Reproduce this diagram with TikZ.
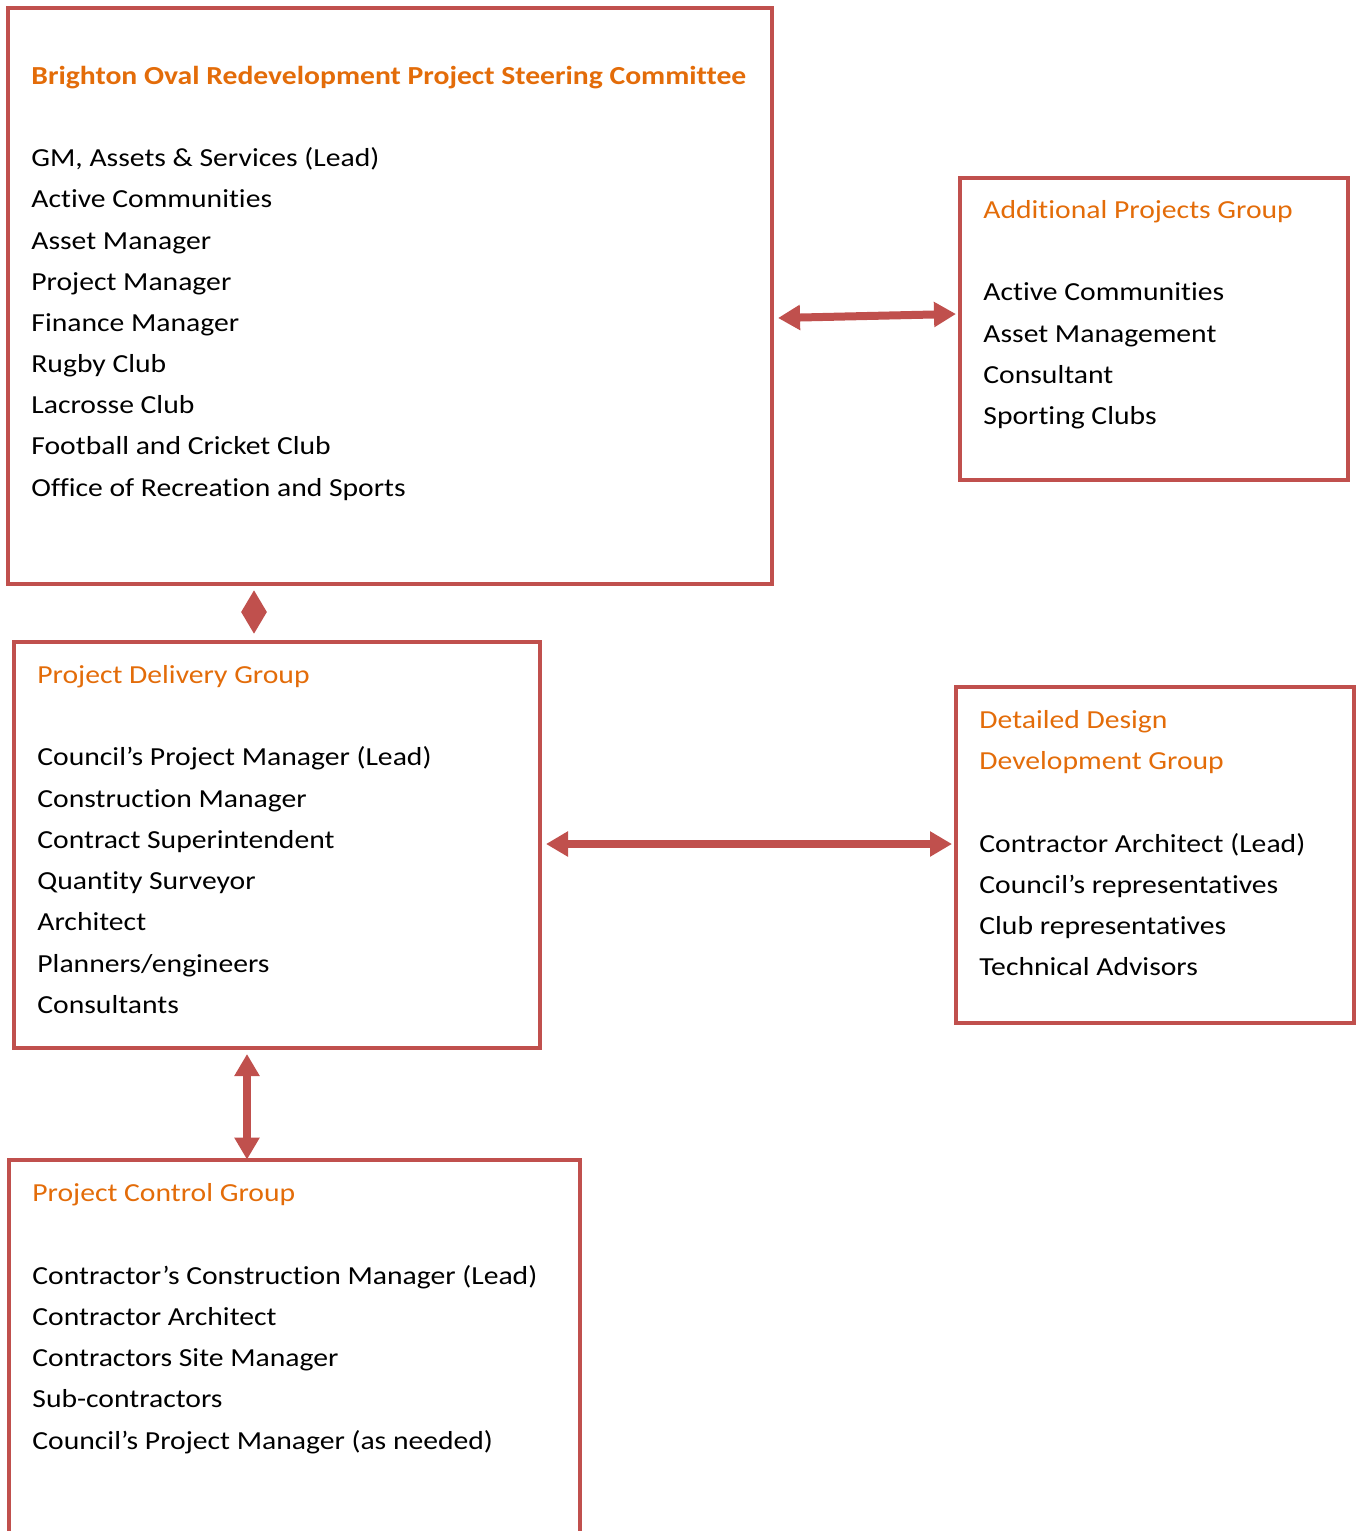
\documentclass[tikz,border=0pt]{standalone}
\usepackage{fontspec}
\setmainfont[FakeStretch=1.14,RawFeature=-liga]{Carlito}
\usetikzlibrary{arrows.meta,fit}
\definecolor{boxred}{HTML}{C0504D}
\definecolor{titleor}{HTML}{E36C09}
\tikzset{
  box/.style={draw=boxred, line width=2pt, inner sep=0pt},
  openbox/.style={inner sep=0pt},
  txt/.style={anchor=base west, inner sep=0pt, font=\fontsize{13}{15}\selectfont, text=black},
  ttl/.style={txt, text=titleor},
  dbl/.style={draw=boxred, line width=4pt, {Triangle[width=12pt,length=11pt]}-{Triangle[width=12pt,length=11pt]}, shorten <=0pt, shorten >=0pt},
}
\begin{document}
\begin{tikzpicture}[x=0.5pt,y=-0.5pt]
\useasboundingbox (0,0) rectangle (1362,1531);
% boxes
\node[box, fit={(8,8)(772,584)}] (steer) {};
\node[box, fit={(960,178)(1348,480)}] (addl) {};
\node[box, fit={(14,642)(540,1048)}] (deliv) {};
\node[box, fit={(956,687)(1354,1023)}] (design) {};
\node[openbox, fit={(9,1160)(580,1545)}] (ctrl) {};
\draw[boxred, line width=2pt] (ctrl.south west) -- (ctrl.north west) -- (ctrl.north east) -- (ctrl.south east);
% steering committee
\node[ttl, font=\fontsize{13}{15}\selectfont\bfseries] (s0) at (31,84) {Brighton Oval Redevelopment Project Steering Committee};
\node[txt] (s1) at (31,166) {GM, Assets \& Services (Lead)};
\node[txt] (s2) at (31,207) {Active Communities};
\node[txt] (s3) at (31,249) {Asset Manager};
\node[txt] (s4) at (31,290) {Project Manager};
\node[txt] (s5) at (31,331) {Finance Manager};
\node[txt] (s6) at (31,372) {Rugby Club};
\node[txt] (s7) at (31,413) {Lacrosse Club};
\node[txt] (s8) at (31,454) {Football and Cricket Club};
\node[txt] (s9) at (31,496) {Office of Recreation and Sports};
% additional projects
\node[ttl] (a0) at (983,218) {Additional Projects Group};
\node[txt] (a1) at (983,300) {Active Communities};
\node[txt] (a2) at (983,342) {Asset Management};
\node[txt] (a3) at (983,383) {Consultant};
\node[txt] (a4) at (983,424) {Sporting Clubs};
% delivery
\node[ttl] (d0) at (37,683) {Project Delivery Group};
\node[txt] (d1) at (37,765) {Council’s Project Manager (Lead)};
\node[txt] (d2) at (37,807) {Construction Manager};
\node[txt] (d3) at (37,848) {Contract Superintendent};
\node[txt] (d4) at (37,889) {Quantity Surveyor};
\node[txt] (d5) at (37,930) {Architect};
\node[txt] (d6) at (37,972) {Planners/engineers};
\node[txt] (d7) at (37,1013) {Consultants};
% design
\node[ttl] (g0) at (979,728) {Detailed Design};
\node[ttl] (g1) at (979,769) {Development Group};
\node[txt] (g2) at (979,852) {Contractor Architect (Lead)};
\node[txt] (g3) at (979,893) {Council’s representatives};
\node[txt] (g4) at (979,934) {Club representatives};
\node[txt] (g5) at (979,975) {Technical Advisors};
% control
\node[ttl] (c0) at (32,1201) {Project Control Group};
\node[txt] (c1) at (32,1284) {Contractor’s Construction Manager (Lead)};
\node[txt] (c2) at (32,1325) {Contractor Architect};
\node[txt] (c3) at (32,1366) {Contractors Site Manager};
\node[txt] (c4) at (32,1407) {Sub-contractors};
\node[txt] (c5) at (32,1449) {Council’s Project Manager (as needed)};
% connectors
\draw[dbl] ([xshift=2pt]steer.east |- 0,318) -- ([xshift=-1pt]addl.west |- 0,314);
\draw[dbl] ([yshift=-2pt]steer.south -| 254,0) -- ([yshift=3pt]deliv.north -| 254,0);
\draw[dbl] ([xshift=2pt]deliv.east |- 0,844) -- ([xshift=-1pt]design.west |- 0,844);
\draw[dbl] ([yshift=-2pt]deliv.south -| 247,0) -- ([yshift=0pt]ctrl.north -| 247,0);
\end{tikzpicture}
\end{document}
